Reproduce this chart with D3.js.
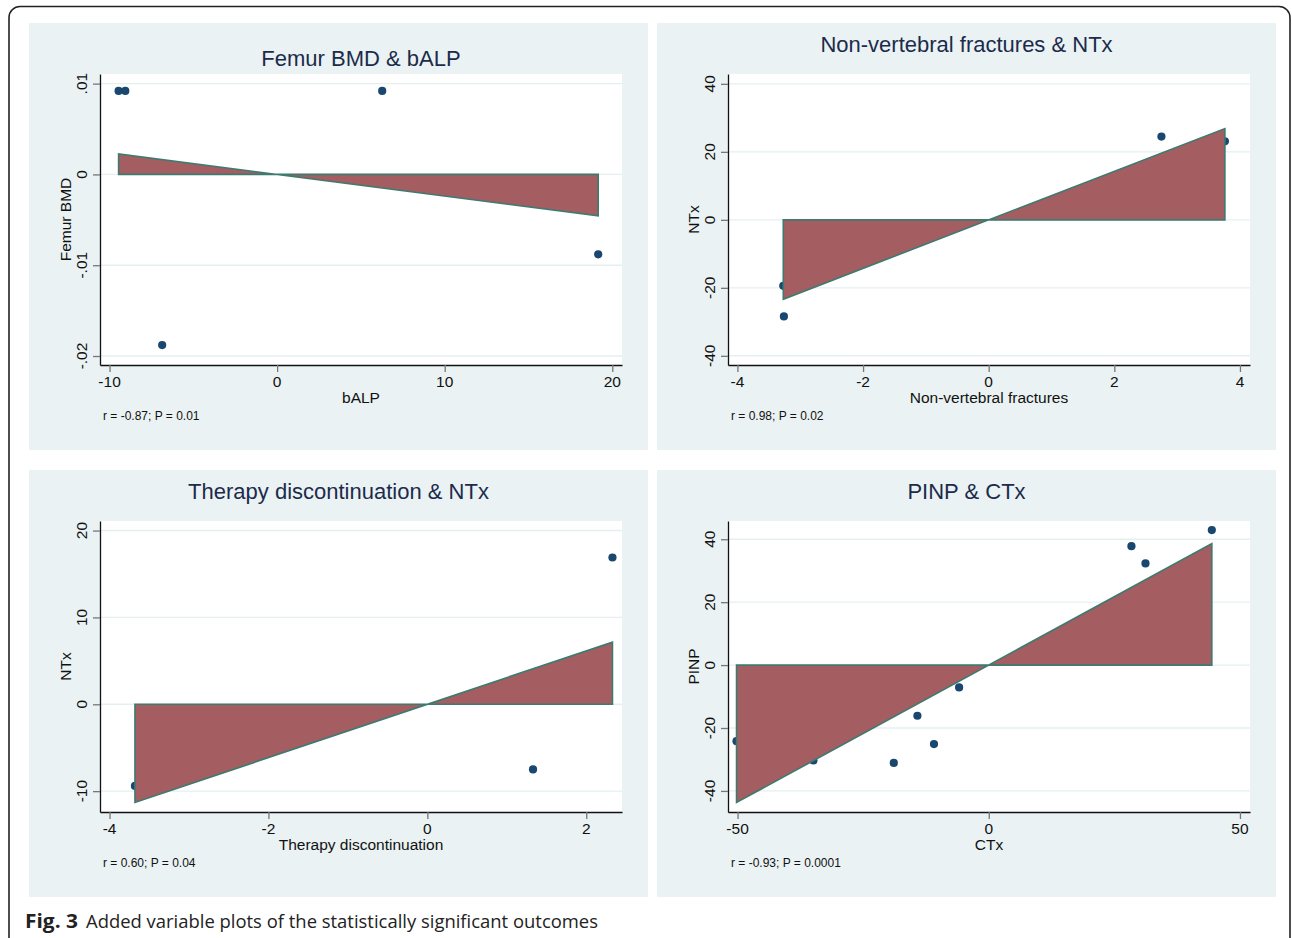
<!DOCTYPE html>
<html><head><meta charset="utf-8">
<script src="https://cdn.jsdelivr.net/npm/d3@7"></script>
<style>body{margin:0;background:#fff;overflow:hidden}</style>
</head><body><svg id="c" width="1292" height="938"></svg>
<script>
// ---------- data ----------
const titles = ["Femur BMD & bALP", "Non-vertebral fractures & NTx", "Therapy discontinuation & NTx", "PINP & CTx"];
const xTitles = ["bALP", "Non-vertebral fractures", "Therapy discontinuation", "CTx"];
const yTitles = ["Femur BMD", "NTx", "NTx", "PINP"];
const notes = ["r = -0.87; P = 0.01", "r = 0.98; P = 0.02", "r = 0.60; P = 0.04", "r = -0.93; P = 0.0001"];

const femurX = [-9.46, -9.06, 6.27, -6.86, 19.16];
const femurY = [0.0092, 0.0092, 0.0092, -0.0188, -0.0088];
const nvfX = [-3.27, -3.26, 2.75, 3.76];
const nvfY = [-19.4, -28.4, 24.5, 23.1];
const therapyX = [-3.68, 1.33, 2.33];
const therapyY = [-9.4, -7.5, 16.9];
const pinpX = [-50.2, -34.9, -18.9, -14.2, -10.9, -5.9, 28.4, 31.2, 44.4];
const pinpY = [-24.2, -30.3, -31.1, -16.1, -25.1, -7.1, 37.8, 32.3, 42.9];

const slopes = [-0.000238, 7.14, 3.07, 0.87];

const xTicks = [[-10, 0, 10, 20], [-4, -2, 0, 2, 4], [-4, -2, 0, 2], [-50, 0, 50]];
const xTickLabels = [["-10", "0", "10", "20"], ["-4", "-2", "0", "2", "4"], ["-4", "-2", "0", "2"], ["-50", "0", "50"]];
const yTicks = [[-0.02, -0.01, 0, 0.01], [-40, -20, 0, 20, 40], [-10, 0, 10, 20], [-40, -20, 0, 20, 40]];
const yTickLabels = [["-.02", "-.01", "0", ".01"], ["-40", "-20", "0", "20", "40"], ["-10", "0", "10", "20"], ["-40", "-20", "0", "20", "40"]];
const xDomains = [[-10.57, 20.58], [-4.15, 4.16], [-4.12, 2.45], [-51.9, 52.0]];
const yDomains = [[-0.02099, 0.01106], [-42.7, 42.9], [-12.4, 21.1], [-46.7, 45.8]];

const seriesX = [femurX, nvfX, therapyX, pinpX];
const seriesY = [femurY, nvfY, therapyY, pinpY];

// ---------- layout ----------
const svg = d3.select("#c");
const FONT = "'Liberation Sans', Arial, Helvetica, sans-serif";
const panelPos = [[29, 23], [657, 23], [29, 470], [657, 470]];
const PW = 619, PH = 427;
const PL = 71, PT = 51, IW = 522, IH = 291;
const titleLayout = [{anchor: "plot", y: 42.7}, {anchor: "panel", y: 28.7}, {anchor: "panel", y: 28.7}, {anchor: "panel", y: 28.7}];

// outer rounded frame
svg.append("rect").attr("x", 9).attr("y", 6.5).attr("width", 1281).attr("height", 1000)
  .attr("rx", 11).attr("fill", "none").attr("stroke", "#222").attr("stroke-width", 1.6);

for (let i = 0; i < 4; i++) {
  const [px, py] = panelPos[i];
  const g = svg.append("g").attr("transform", `translate(${px},${py})`);
  g.append("rect").attr("width", PW).attr("height", PH).attr("fill", "#eaf2f3");

  const x = d3.scaleLinear().domain(xDomains[i]).range([0, IW]);
  const y = d3.scaleLinear().domain(yDomains[i]).range([IH, 0]);

  const p = g.append("g").attr("transform", `translate(${PL},${PT})`);
  p.append("rect").attr("width", IW).attr("height", IH).attr("fill", "#fff");

  // gridlines
  p.selectAll(".grid").data(yTicks[i]).join("line")
    .attr("x1", 0).attr("x2", IW)
    .attr("y1", d => y(d)).attr("y2", d => y(d))
    .attr("stroke", "#e6eff0").attr("stroke-width", 1.4);

  // points
  const pts = seriesX[i].map((v, k) => [v, seriesY[i][k]]);
  p.selectAll(".pt").data(pts).join("circle")
    .attr("cx", d => x(d[0])).attr("cy", d => y(d[1])).attr("r", 4.1)
    .attr("fill", "#1a476f");

  // fitted area (bow-tie)
  const [x0, x1] = d3.extent(seriesX[i]);
  const b = slopes[i];
  const poly = [[x0, 0], [x0, b * x0], [x1, b * x1], [x1, 0]];
  p.append("path")
    .attr("d", d3.line().x(d => x(d[0])).y(d => y(d[1]))(poly) + "Z")
    .attr("fill", "#a45d60").attr("stroke", "#3d7a70").attr("stroke-width", 1.6)
    .attr("stroke-linejoin", "miter");

  // axes
  const xa = p.append("g").attr("transform", `translate(0,${IH})`)
    .call(d3.axisBottom(x).tickValues(xTicks[i]).tickFormat("").tickSize(7).tickSizeOuter(0));
  const ya = p.append("g")
    .call(d3.axisLeft(y).tickValues(yTicks[i]).tickFormat("").tickSize(7).tickSizeOuter(0));
  [xa, ya].forEach(a => {
    a.select(".domain").attr("stroke", "#111").attr("stroke-width", 1.3);
    a.selectAll(".tick line").attr("stroke", "#777").attr("stroke-width", 1.3);
  });

  // tick labels
  p.selectAll(".xl").data(xTicks[i]).join("text")
    .attr("x", d => x(d)).attr("y", IH + 22)
    .attr("text-anchor", "middle").attr("font-family", FONT).attr("font-size", 15.5).attr("fill", "#111")
    .text((d, k) => xTickLabels[i][k]);
  p.selectAll(".yl").data(yTicks[i]).join("text")
    .attr("transform", d => `translate(-13,${y(d)}) rotate(-90)`)
    .attr("text-anchor", "middle").attr("font-family", FONT).attr("font-size", 15.5).attr("fill", "#111")
    .text((d, k) => yTickLabels[i][k]);

  // axis titles
  g.append("text").attr("x", PL + IW / 2).attr("y", 380)
    .attr("text-anchor", "middle").attr("font-family", FONT).attr("font-size", 15.5).attr("fill", "#111")
    .text(xTitles[i]);
  g.append("text").attr("transform", `translate(41.5,${PT + IH / 2}) rotate(-90)`)
    .attr("text-anchor", "middle").attr("font-family", FONT).attr("font-size", 15.5).attr("fill", "#111")
    .text(yTitles[i]);

  // note
  g.append("text").attr("x", 74).attr("y", 397)
    .attr("font-family", FONT).attr("font-size", 12).attr("fill", "#111")
    .text(notes[i]);

  // title
  const tl = titleLayout[i];
  g.append("text")
    .attr("x", tl.anchor === "plot" ? PL + IW / 2 : PW / 2).attr("y", tl.y)
    .attr("text-anchor", "middle").attr("font-family", FONT).attr("font-size", 22).attr("fill", "#1c2b4b")
    .text(titles[i]);
}

// caption
const CAP = "'Open Sans', 'Noto Sans', sans-serif";
svg.append("text").attr("x", 25).attr("y", 928)
  .attr("font-family", CAP).attr("font-weight", "bold").attr("font-size", 19).attr("fill", "#222")
  .attr("textLength", 53).attr("lengthAdjust", "spacingAndGlyphs")
  .text("Fig. 3");
svg.append("text").attr("x", 86).attr("y", 928)
  .attr("font-family", CAP).attr("font-size", 19).attr("fill", "#222")
  .attr("textLength", 512).attr("lengthAdjust", "spacingAndGlyphs")
  .text("Added variable plots of the statistically significant outcomes");
</script></body></html>
